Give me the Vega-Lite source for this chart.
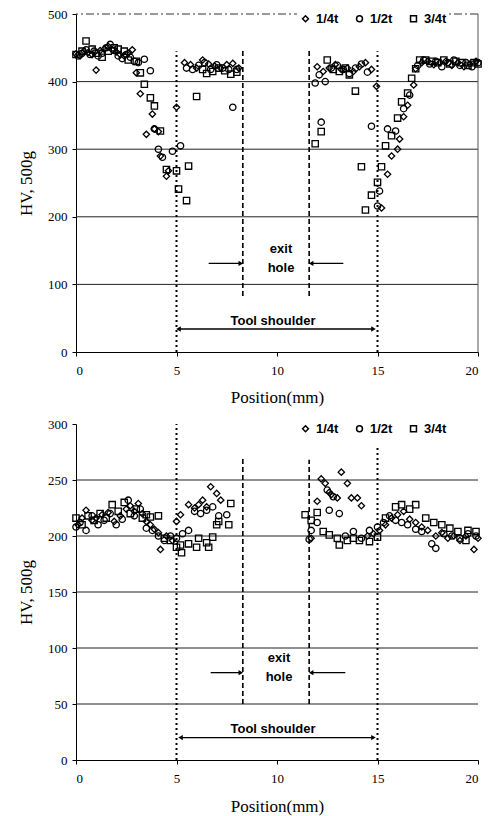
{
"$schema":"https://vega.github.io/schema/vega-lite/v6.json",
"background":"white",
"padding":{"left":17,"top":8,"right":6,"bottom":4},
"spacing":13,
"config":{"view":{"stroke":null},"axis":{"domainColor":"black","tickColor":"black","labelColor":"black","titleColor":"black","labelFont":"Liberation Serif","titleFont":"Liberation Serif","labelFontSize":13,"titleFontSize":17,"titleFontWeight":"normal","grid":false,"tickSize":4}},
"datasets":{
"top":[
{"s":"1/4t","x":0.0,"y":441},{"s":"1/4t","x":0.2,"y":438},{"s":"1/4t","x":0.4,"y":445},{"s":"1/4t","x":0.6,"y":443},{"s":"1/4t","x":0.8,"y":440},{"s":"1/4t","x":1.0,"y":417},{"s":"1/4t","x":1.2,"y":446},{"s":"1/4t","x":1.4,"y":448},{"s":"1/4t","x":1.6,"y":452},{"s":"1/4t","x":1.8,"y":447},{"s":"1/4t","x":2.0,"y":444},{"s":"1/4t","x":2.2,"y":440},{"s":"1/4t","x":2.4,"y":438},{"s":"1/4t","x":2.6,"y":442},{"s":"1/4t","x":2.8,"y":447},{"s":"1/4t","x":3.0,"y":413},{"s":"1/4t","x":3.2,"y":382},{"s":"1/4t","x":3.5,"y":322},{"s":"1/4t","x":3.8,"y":352},{"s":"1/4t","x":3.9,"y":330},{"s":"1/4t","x":4.1,"y":326},{"s":"1/4t","x":4.2,"y":290},{"s":"1/4t","x":4.5,"y":260},{"s":"1/4t","x":4.6,"y":268},{"s":"1/4t","x":5.0,"y":362},{"s":"1/4t","x":5.4,"y":428},{"s":"1/4t","x":5.7,"y":425},{"s":"1/4t","x":6.0,"y":420},{"s":"1/4t","x":6.3,"y":432},{"s":"1/4t","x":6.6,"y":426},{"s":"1/4t","x":6.9,"y":423},{"s":"1/4t","x":7.2,"y":420},{"s":"1/4t","x":7.5,"y":425},{"s":"1/4t","x":7.8,"y":427},{"s":"1/4t","x":8.1,"y":420},
{"s":"1/4t","x":12.0,"y":422},{"s":"1/4t","x":12.3,"y":415},{"s":"1/4t","x":12.6,"y":420},{"s":"1/4t","x":12.9,"y":425},{"s":"1/4t","x":13.2,"y":418},{"s":"1/4t","x":13.5,"y":420},{"s":"1/4t","x":13.8,"y":415},{"s":"1/4t","x":14.1,"y":422},{"s":"1/4t","x":14.4,"y":428},{"s":"1/4t","x":14.7,"y":418},{"s":"1/4t","x":14.95,"y":393},{"s":"1/4t","x":15.2,"y":213},{"s":"1/4t","x":15.5,"y":263},{"s":"1/4t","x":15.7,"y":290},{"s":"1/4t","x":16.0,"y":300},{"s":"1/4t","x":16.1,"y":315},{"s":"1/4t","x":16.3,"y":348},{"s":"1/4t","x":16.5,"y":365},{"s":"1/4t","x":16.8,"y":395},{"s":"1/4t","x":16.9,"y":419},{"s":"1/4t","x":17.2,"y":428},{"s":"1/4t","x":17.5,"y":430},{"s":"1/4t","x":17.8,"y":425},{"s":"1/4t","x":18.1,"y":428},{"s":"1/4t","x":18.4,"y":430},{"s":"1/4t","x":18.7,"y":424},{"s":"1/4t","x":19.0,"y":428},{"s":"1/4t","x":19.3,"y":422},{"s":"1/4t","x":19.6,"y":426},{"s":"1/4t","x":19.9,"y":430},
{"s":"1/2t","x":0.1,"y":438},{"s":"1/2t","x":0.3,"y":442},{"s":"1/2t","x":0.5,"y":447},{"s":"1/2t","x":0.7,"y":440},{"s":"1/2t","x":0.9,"y":445},{"s":"1/2t","x":1.1,"y":438},{"s":"1/2t","x":1.3,"y":442},{"s":"1/2t","x":1.5,"y":450},{"s":"1/2t","x":1.7,"y":455},{"s":"1/2t","x":1.9,"y":446},{"s":"1/2t","x":2.1,"y":438},{"s":"1/2t","x":2.3,"y":434},{"s":"1/2t","x":2.5,"y":440},{"s":"1/2t","x":2.7,"y":436},{"s":"1/2t","x":2.9,"y":430},{"s":"1/2t","x":3.1,"y":428},{"s":"1/2t","x":3.4,"y":433},{"s":"1/2t","x":3.7,"y":416},{"s":"1/2t","x":3.9,"y":330},{"s":"1/2t","x":4.1,"y":300},{"s":"1/2t","x":4.3,"y":288},{"s":"1/2t","x":4.8,"y":297},{"s":"1/2t","x":5.2,"y":305},{"s":"1/2t","x":5.5,"y":420},{"s":"1/2t","x":5.8,"y":418},{"s":"1/2t","x":6.1,"y":424},{"s":"1/2t","x":6.4,"y":428},{"s":"1/2t","x":6.7,"y":418},{"s":"1/2t","x":7.0,"y":425},{"s":"1/2t","x":7.3,"y":420},{"s":"1/2t","x":7.6,"y":418},{"s":"1/2t","x":7.8,"y":362},{"s":"1/2t","x":8.0,"y":418},
{"s":"1/2t","x":11.9,"y":398},{"s":"1/2t","x":12.1,"y":410},{"s":"1/2t","x":12.2,"y":340},{"s":"1/2t","x":12.4,"y":400},{"s":"1/2t","x":12.7,"y":420},{"s":"1/2t","x":13.0,"y":424},{"s":"1/2t","x":13.3,"y":418},{"s":"1/2t","x":13.6,"y":412},{"s":"1/2t","x":13.9,"y":420},{"s":"1/2t","x":14.2,"y":426},{"s":"1/2t","x":14.5,"y":414},{"s":"1/2t","x":14.7,"y":334},{"s":"1/2t","x":15.0,"y":216},{"s":"1/2t","x":15.1,"y":238},{"s":"1/2t","x":15.5,"y":330},{"s":"1/2t","x":15.9,"y":327},{"s":"1/2t","x":16.3,"y":360},{"s":"1/2t","x":16.6,"y":380},{"s":"1/2t","x":17.0,"y":424},{"s":"1/2t","x":17.3,"y":432},{"s":"1/2t","x":17.6,"y":426},{"s":"1/2t","x":17.9,"y":430},{"s":"1/2t","x":18.2,"y":422},{"s":"1/2t","x":18.5,"y":428},{"s":"1/2t","x":18.8,"y":432},{"s":"1/2t","x":19.1,"y":424},{"s":"1/2t","x":19.4,"y":428},{"s":"1/2t","x":19.7,"y":422},{"s":"1/2t","x":20.0,"y":428},
{"s":"3/4t","x":0.0,"y":440},{"s":"3/4t","x":0.3,"y":445},{"s":"3/4t","x":0.5,"y":460},{"s":"3/4t","x":0.8,"y":448},{"s":"3/4t","x":1.0,"y":442},{"s":"3/4t","x":1.3,"y":436},{"s":"3/4t","x":1.6,"y":445},{"s":"3/4t","x":1.9,"y":450},{"s":"3/4t","x":2.1,"y":448},{"s":"3/4t","x":2.4,"y":445},{"s":"3/4t","x":2.6,"y":432},{"s":"3/4t","x":3.0,"y":430},{"s":"3/4t","x":3.2,"y":413},{"s":"3/4t","x":3.4,"y":396},{"s":"3/4t","x":3.7,"y":376},{"s":"3/4t","x":3.9,"y":364},{"s":"3/4t","x":4.2,"y":327},{"s":"3/4t","x":4.5,"y":270},{"s":"3/4t","x":5.0,"y":268},{"s":"3/4t","x":5.1,"y":241},{"s":"3/4t","x":5.5,"y":224},{"s":"3/4t","x":5.6,"y":275},{"s":"3/4t","x":6.0,"y":378},{"s":"3/4t","x":6.3,"y":418},{"s":"3/4t","x":6.5,"y":412},{"s":"3/4t","x":6.8,"y":415},{"s":"3/4t","x":7.1,"y":420},{"s":"3/4t","x":7.4,"y":416},{"s":"3/4t","x":7.7,"y":411},{"s":"3/4t","x":8.0,"y":414},
{"s":"3/4t","x":11.9,"y":308},{"s":"3/4t","x":12.2,"y":326},{"s":"3/4t","x":12.5,"y":432},{"s":"3/4t","x":12.8,"y":418},{"s":"3/4t","x":13.1,"y":415},{"s":"3/4t","x":13.4,"y":420},{"s":"3/4t","x":13.6,"y":410},{"s":"3/4t","x":13.9,"y":386},{"s":"3/4t","x":14.2,"y":274},{"s":"3/4t","x":14.4,"y":210},{"s":"3/4t","x":14.7,"y":232},{"s":"3/4t","x":15.0,"y":251},{"s":"3/4t","x":15.2,"y":274},{"s":"3/4t","x":15.4,"y":305},{"s":"3/4t","x":15.7,"y":320},{"s":"3/4t","x":16.0,"y":346},{"s":"3/4t","x":16.2,"y":370},{"s":"3/4t","x":16.5,"y":383},{"s":"3/4t","x":16.7,"y":405},{"s":"3/4t","x":16.9,"y":419},{"s":"3/4t","x":17.1,"y":432},{"s":"3/4t","x":17.4,"y":432},{"s":"3/4t","x":17.7,"y":430},{"s":"3/4t","x":18.0,"y":428},{"s":"3/4t","x":18.3,"y":432},{"s":"3/4t","x":18.6,"y":426},{"s":"3/4t","x":18.9,"y":430},{"s":"3/4t","x":19.2,"y":428},{"s":"3/4t","x":19.5,"y":424},{"s":"3/4t","x":19.8,"y":428},{"s":"3/4t","x":20.0,"y":426}
],
"bot":[
{"s":"1/4t","x":0.1,"y":210},{"s":"1/4t","x":0.3,"y":216},{"s":"1/4t","x":0.5,"y":223},{"s":"1/4t","x":0.8,"y":214},{"s":"1/4t","x":1.0,"y":216},{"s":"1/4t","x":1.3,"y":219},{"s":"1/4t","x":1.6,"y":221},{"s":"1/4t","x":1.9,"y":213},{"s":"1/4t","x":2.2,"y":218},{"s":"1/4t","x":2.5,"y":224},{"s":"1/4t","x":2.7,"y":227},{"s":"1/4t","x":2.9,"y":222},{"s":"1/4t","x":3.1,"y":229},{"s":"1/4t","x":3.3,"y":220},{"s":"1/4t","x":3.5,"y":213},{"s":"1/4t","x":3.7,"y":210},{"s":"1/4t","x":3.9,"y":206},{"s":"1/4t","x":4.1,"y":203},{"s":"1/4t","x":4.2,"y":188},{"s":"1/4t","x":4.5,"y":200},{"s":"1/4t","x":4.8,"y":196},{"s":"1/4t","x":5.0,"y":213},{"s":"1/4t","x":5.2,"y":219},{"s":"1/4t","x":5.6,"y":228},{"s":"1/4t","x":5.9,"y":225},{"s":"1/4t","x":6.1,"y":228},{"s":"1/4t","x":6.3,"y":232},{"s":"1/4t","x":6.5,"y":226},{"s":"1/4t","x":6.7,"y":244},{"s":"1/4t","x":7.0,"y":238},{"s":"1/4t","x":7.2,"y":232},
{"s":"1/4t","x":11.7,"y":198},{"s":"1/4t","x":12.0,"y":231},{"s":"1/4t","x":12.2,"y":251},{"s":"1/4t","x":12.4,"y":247},{"s":"1/4t","x":12.6,"y":239},{"s":"1/4t","x":12.7,"y":237},{"s":"1/4t","x":13.0,"y":234},{"s":"1/4t","x":13.2,"y":257},{"s":"1/4t","x":13.5,"y":247},{"s":"1/4t","x":13.7,"y":234},{"s":"1/4t","x":14.0,"y":234},{"s":"1/4t","x":14.2,"y":227},{"s":"1/4t","x":14.5,"y":200},{"s":"1/4t","x":14.8,"y":202},{"s":"1/4t","x":15.1,"y":205},{"s":"1/4t","x":15.4,"y":210},{"s":"1/4t","x":15.7,"y":216},{"s":"1/4t","x":16.0,"y":219},{"s":"1/4t","x":16.3,"y":222},{"s":"1/4t","x":16.6,"y":215},{"s":"1/4t","x":16.9,"y":212},{"s":"1/4t","x":17.2,"y":208},{"s":"1/4t","x":17.5,"y":205},{"s":"1/4t","x":17.9,"y":200},{"s":"1/4t","x":18.2,"y":203},{"s":"1/4t","x":18.5,"y":198},{"s":"1/4t","x":18.8,"y":200},{"s":"1/4t","x":19.1,"y":196},{"s":"1/4t","x":19.4,"y":200},{"s":"1/4t","x":19.8,"y":188},{"s":"1/4t","x":20.0,"y":198},
{"s":"1/2t","x":0.0,"y":208},{"s":"1/2t","x":0.2,"y":212},{"s":"1/2t","x":0.5,"y":205},{"s":"1/2t","x":0.8,"y":218},{"s":"1/2t","x":1.1,"y":210},{"s":"1/2t","x":1.4,"y":214},{"s":"1/2t","x":1.7,"y":220},{"s":"1/2t","x":2.0,"y":210},{"s":"1/2t","x":2.3,"y":215},{"s":"1/2t","x":2.6,"y":232},{"s":"1/2t","x":2.9,"y":218},{"s":"1/2t","x":3.2,"y":224},{"s":"1/2t","x":3.5,"y":207},{"s":"1/2t","x":3.8,"y":205},{"s":"1/2t","x":4.1,"y":200},{"s":"1/2t","x":4.4,"y":196},{"s":"1/2t","x":4.7,"y":200},{"s":"1/2t","x":5.0,"y":198},{"s":"1/2t","x":5.3,"y":202},{"s":"1/2t","x":5.6,"y":205},{"s":"1/2t","x":5.9,"y":222},{"s":"1/2t","x":6.2,"y":220},{"s":"1/2t","x":6.5,"y":223},{"s":"1/2t","x":6.8,"y":226},{"s":"1/2t","x":7.1,"y":218},{"s":"1/2t","x":7.5,"y":219},
{"s":"1/2t","x":11.6,"y":197},{"s":"1/2t","x":11.7,"y":205},{"s":"1/2t","x":12.0,"y":212},{"s":"1/2t","x":12.5,"y":241},{"s":"1/2t","x":12.6,"y":223},{"s":"1/2t","x":12.8,"y":235},{"s":"1/2t","x":13.1,"y":220},{"s":"1/2t","x":13.4,"y":200},{"s":"1/2t","x":13.8,"y":204},{"s":"1/2t","x":14.2,"y":198},{"s":"1/2t","x":14.6,"y":205},{"s":"1/2t","x":15.0,"y":208},{"s":"1/2t","x":15.3,"y":212},{"s":"1/2t","x":15.6,"y":218},{"s":"1/2t","x":15.9,"y":214},{"s":"1/2t","x":16.2,"y":212},{"s":"1/2t","x":16.5,"y":210},{"s":"1/2t","x":16.9,"y":206},{"s":"1/2t","x":17.2,"y":204},{"s":"1/2t","x":17.7,"y":193},{"s":"1/2t","x":17.9,"y":189},{"s":"1/2t","x":18.3,"y":202},{"s":"1/2t","x":18.7,"y":200},{"s":"1/2t","x":19.1,"y":198},{"s":"1/2t","x":19.5,"y":202},{"s":"1/2t","x":19.9,"y":200},
{"s":"3/4t","x":0.0,"y":216},{"s":"3/4t","x":0.3,"y":210},{"s":"3/4t","x":0.6,"y":218},{"s":"3/4t","x":0.9,"y":214},{"s":"3/4t","x":1.2,"y":220},{"s":"3/4t","x":1.5,"y":216},{"s":"3/4t","x":1.8,"y":228},{"s":"3/4t","x":2.1,"y":222},{"s":"3/4t","x":2.4,"y":230},{"s":"3/4t","x":2.7,"y":220},{"s":"3/4t","x":3.0,"y":224},{"s":"3/4t","x":3.3,"y":216},{"s":"3/4t","x":3.5,"y":219},{"s":"3/4t","x":3.7,"y":217},{"s":"3/4t","x":4.1,"y":218},{"s":"3/4t","x":4.4,"y":198},{"s":"3/4t","x":4.7,"y":196},{"s":"3/4t","x":5.0,"y":190},{"s":"3/4t","x":5.2,"y":192},{"s":"3/4t","x":5.25,"y":185},{"s":"3/4t","x":5.6,"y":193},{"s":"3/4t","x":6.0,"y":190},{"s":"3/4t","x":6.1,"y":198},{"s":"3/4t","x":6.5,"y":194},{"s":"3/4t","x":6.6,"y":190},{"s":"3/4t","x":6.8,"y":199},{"s":"3/4t","x":7.0,"y":210},{"s":"3/4t","x":7.1,"y":213},{"s":"3/4t","x":7.6,"y":210},{"s":"3/4t","x":7.7,"y":229},
{"s":"3/4t","x":11.4,"y":219},{"s":"3/4t","x":11.7,"y":214},{"s":"3/4t","x":12.0,"y":221},{"s":"3/4t","x":12.3,"y":204},{"s":"3/4t","x":12.6,"y":201},{"s":"3/4t","x":13.0,"y":198},{"s":"3/4t","x":13.1,"y":192},{"s":"3/4t","x":13.5,"y":196},{"s":"3/4t","x":13.8,"y":198},{"s":"3/4t","x":14.1,"y":196},{"s":"3/4t","x":14.6,"y":195},{"s":"3/4t","x":15.0,"y":199},{"s":"3/4t","x":15.4,"y":216},{"s":"3/4t","x":15.9,"y":226},{"s":"3/4t","x":16.2,"y":228},{"s":"3/4t","x":16.6,"y":224},{"s":"3/4t","x":16.9,"y":228},{"s":"3/4t","x":17.4,"y":216},{"s":"3/4t","x":17.8,"y":212},{"s":"3/4t","x":18.2,"y":210},{"s":"3/4t","x":18.6,"y":207},{"s":"3/4t","x":19.0,"y":204},{"s":"3/4t","x":19.4,"y":196},{"s":"3/4t","x":19.5,"y":205},{"s":"3/4t","x":19.9,"y":204}
],
"topgrid":[{"v":100},{"v":200},{"v":300},{"v":400}],
"botgrid":[{"v":50},{"v":100},{"v":150},{"v":200},{"v":250}],
"topv":[{"x":5,"y1":0,"y2":445,"k":"dot"},{"x":8.3,"y1":83,"y2":447,"k":"dash"},{"x":11.6,"y1":83,"y2":447,"k":"dash"},{"x":15,"y1":0,"y2":445,"k":"dot"}],
"botv":[{"x":5,"y1":0,"y2":300,"k":"dot"},{"x":8.3,"y1":50,"y2":270,"k":"dash"},{"x":11.6,"y1":50,"y2":268,"k":"dash"},{"x":15,"y1":0,"y2":280,"k":"dot"}],
"toparr":[{"x":6.6,"b":8.2,"y":131},{"x":13.3,"b":11.7,"y":131},{"x":5.1,"b":14.8,"y":34}],
"topheads":[{"x":8.2,"y":131,"d":"r"},{"x":11.7,"y":131,"d":"l"},{"x":5.1,"y":34,"d":"l"},{"x":14.8,"y":34,"d":"r"}],
"toptext":[{"x":10.2,"y":152,"t":"exit"},{"x":10.2,"y":124,"t":"hole"},{"x":9.8,"y":46,"t":"Tool shoulder"}],
"botarr":[{"x":6.7,"b":8.2,"y":78},{"x":13.4,"b":11.7,"y":78},{"x":5.2,"b":14.8,"y":20}],
"botheads":[{"x":8.2,"y":78,"d":"r"},{"x":11.7,"y":78,"d":"l"},{"x":5.2,"y":20,"d":"l"},{"x":14.8,"y":20,"d":"r"}],
"bottext":[{"x":10.1,"y":91,"t":"exit"},{"x":10.1,"y":74,"t":"hole"},{"x":9.8,"y":28,"t":"Tool shoulder"}]
},
"vconcat":[
{
"width":402,"height":338,
"encoding":{
"x":{"type":"quantitative","scale":{"domain":[0,20],"nice":false},"axis":{"values":[0,5,10,15,20],"title":"Position(mm)","labelPadding":8,"titlePadding":12}},
"y":{"type":"quantitative","scale":{"domain":[0,500],"nice":false},"axis":{"values":[0,100,200,300,400,500],"title":"HV, 500g","labelPadding":5,"titlePadding":12}}
},
"layer":[
{"data":{"name":"topgrid"},"mark":{"type":"rule","color":"#222","strokeWidth":1},"encoding":{"y":{"field":"v"}}},
{"data":{"values":[{"v":500}]},"mark":{"type":"rule","color":"#333","strokeWidth":1,"strokeDash":[8,3,2,3]},"encoding":{"y":{"field":"v"}}},
{"data":{"values":[{"x":20,"y":0,"y2":500}]},"mark":{"type":"rule","color":"#555","strokeWidth":1},"encoding":{"x":{"field":"x"},"y":{"field":"y"},"y2":{"field":"y2"}}},
{"data":{"name":"topv"},"transform":[{"filter":"datum.k=='dot'"}],"mark":{"type":"rule","color":"black","strokeWidth":2,"strokeDash":[2,3]},"encoding":{"x":{"field":"x"},"y":{"field":"y1"},"y2":{"field":"y2"}}},
{"data":{"name":"topv"},"transform":[{"filter":"datum.k=='dash'"}],"mark":{"type":"rule","color":"black","strokeWidth":1.6,"strokeDash":[5,3]},"encoding":{"x":{"field":"x"},"y":{"field":"y1"},"y2":{"field":"y2"}}},
{"data":{"name":"toparr"},"mark":{"type":"rule","color":"black","strokeWidth":1.3},"encoding":{"x":{"field":"x"},"x2":{"field":"b"},"y":{"field":"y"}}},
{"data":{"name":"topheads"},"transform":[{"filter":"datum.d=='r'"}],"mark":{"type":"point","shape":"triangle-right","filled":true,"color":"black","size":28,"opacity":1},"encoding":{"x":{"field":"x"},"y":{"field":"y"}}},
{"data":{"name":"topheads"},"transform":[{"filter":"datum.d=='l'"}],"mark":{"type":"point","shape":"triangle-left","filled":true,"color":"black","size":28,"opacity":1},"encoding":{"x":{"field":"x"},"y":{"field":"y"}}},
{"data":{"name":"toptext"},"mark":{"type":"text","font":"Liberation Sans","fontWeight":"bold","fontSize":13,"color":"black"},"encoding":{"x":{"field":"x"},"y":{"field":"y"},"text":{"field":"t"}}},
{"data":{"name":"top"},"mark":{"type":"point","filled":false,"strokeWidth":1.3,"size":40,"opacity":1},
"encoding":{
"x":{"field":"x"},
"y":{"field":"y"},
"color":{"value":"black"},
"shape":{"field":"s","type":"nominal","scale":{"domain":["1/4t","1/2t","3/4t"],"range":["diamond","circle","square"]},"legend":{"orient":"none","legendX":221,"legendY":-4,"direction":"horizontal","title":null,"labelFont":"Liberation Sans","labelFontSize":13,"labelFontWeight":"bold","labelColor":"black","symbolStrokeColor":"black","symbolFillColor":"white","symbolSize":35,"symbolStrokeWidth":1.5,"fillColor":"white","padding":2,"columnPadding":14,"labelOffset":4}}
}}
]
},
{
"width":402,"height":336,
"encoding":{
"x":{"type":"quantitative","scale":{"domain":[0,20],"nice":false},"axis":{"values":[0,5,10,15,20],"title":"Position(mm)","labelPadding":8,"titlePadding":13}},
"y":{"type":"quantitative","scale":{"domain":[0,300],"nice":false},"axis":{"values":[0,50,100,150,200,250,300],"title":"HV, 500g","labelPadding":5,"titlePadding":12}}
},
"layer":[
{"data":{"name":"botgrid"},"mark":{"type":"rule","color":"#222","strokeWidth":1},"encoding":{"y":{"field":"v"}}},
{"data":{"name":"botv"},"transform":[{"filter":"datum.k=='dot'"}],"mark":{"type":"rule","color":"black","strokeWidth":2,"strokeDash":[2,3]},"encoding":{"x":{"field":"x"},"y":{"field":"y1"},"y2":{"field":"y2"}}},
{"data":{"name":"botv"},"transform":[{"filter":"datum.k=='dash'"}],"mark":{"type":"rule","color":"black","strokeWidth":1.6,"strokeDash":[5,3]},"encoding":{"x":{"field":"x"},"y":{"field":"y1"},"y2":{"field":"y2"}}},
{"data":{"name":"botarr"},"mark":{"type":"rule","color":"black","strokeWidth":1.3},"encoding":{"x":{"field":"x"},"x2":{"field":"b"},"y":{"field":"y"}}},
{"data":{"name":"botheads"},"transform":[{"filter":"datum.d=='r'"}],"mark":{"type":"point","shape":"triangle-right","filled":true,"color":"black","size":28,"opacity":1},"encoding":{"x":{"field":"x"},"y":{"field":"y"}}},
{"data":{"name":"botheads"},"transform":[{"filter":"datum.d=='l'"}],"mark":{"type":"point","shape":"triangle-left","filled":true,"color":"black","size":28,"opacity":1},"encoding":{"x":{"field":"x"},"y":{"field":"y"}}},
{"data":{"name":"bottext"},"mark":{"type":"text","font":"Liberation Sans","fontWeight":"bold","fontSize":13,"color":"black"},"encoding":{"x":{"field":"x"},"y":{"field":"y"},"text":{"field":"t"}}},
{"data":{"name":"bot"},"mark":{"type":"point","filled":false,"strokeWidth":1.3,"size":40,"opacity":1},
"encoding":{
"x":{"field":"x"},
"y":{"field":"y"},
"color":{"value":"black"},
"shape":{"field":"s","type":"nominal","scale":{"domain":["1/4t","1/2t","3/4t"],"range":["diamond","circle","square"]},"legend":{"orient":"none","legendX":221,"legendY":-4,"direction":"horizontal","title":null,"labelFont":"Liberation Sans","labelFontSize":13,"labelFontWeight":"bold","labelColor":"black","symbolStrokeColor":"black","symbolFillColor":"white","symbolSize":35,"symbolStrokeWidth":1.5,"fillColor":"white","padding":2,"columnPadding":14,"labelOffset":4}}
}}
]
}
],
"resolve":{"scale":{"shape":"independent"},"legend":{"shape":"independent"}}
}
